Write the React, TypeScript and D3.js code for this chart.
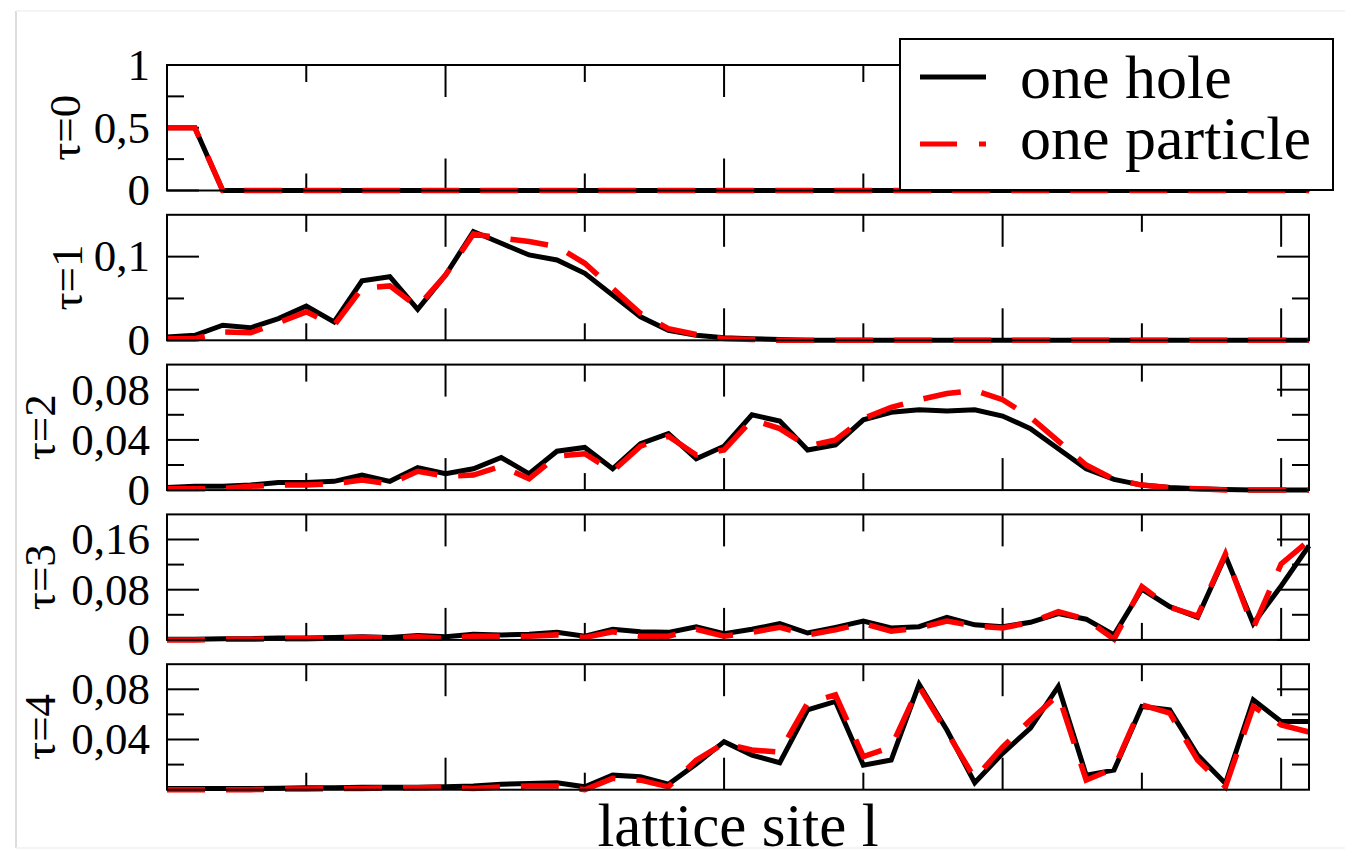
import React from 'react';
import * as d3 from 'd3';

// density at each lattice site (sites 0..41), one array per tau panel
const tau0Hole = [0.5, 0.5, 0, 0, 0, 0, 0, 0, 0, 0, 0, 0, 0, 0, 0, 0, 0, 0, 0, 0, 0, 0, 0, 0, 0, 0, 0, 0, 0, 0, 0, 0, 0, 0, 0, 0, 0, 0, 0, 0, 0, 0];
const tau0Particle = [0.5, 0.5, 0, 0, 0, 0, 0, 0, 0, 0, 0, 0, 0, 0, 0, 0, 0, 0, 0, 0, 0, 0, 0, 0, 0, 0, 0, 0, 0, 0, 0, 0, 0, 0, 0, 0, 0, 0, 0, 0, 0, 0];

const tau1Hole = [0.004, 0.006, 0.018, 0.015, 0.026, 0.041, 0.022, 0.071, 0.076, 0.037, 0.078, 0.13, 0.116, 0.102, 0.096, 0.08, 0.054, 0.028, 0.012, 0.006, 0.003, 0.002, 0.001, 0, 0, 0, 0, 0, 0, 0, 0, 0, 0, 0, 0, 0, 0, 0, 0, 0, 0, 0];
const tau1Particle = [0.002, 0.002, 0.01, 0.009, 0.021, 0.034, 0.018, 0.062, 0.065, 0.04, 0.078, 0.127, 0.122, 0.118, 0.112, 0.092, 0.062, 0.032, 0.014, 0.007, 0.002, 0.001, 0, 0, 0, 0, 0, 0, 0, 0, 0, 0, 0, 0, 0, 0, 0, 0, 0, 0, 0, 0];

const tau2Hole = [0.002, 0.003, 0.003, 0.004, 0.006, 0.006, 0.007, 0.012, 0.007, 0.018, 0.013, 0.017, 0.026, 0.013, 0.031, 0.034, 0.017, 0.037, 0.045, 0.025, 0.035, 0.06, 0.055, 0.032, 0.036, 0.056, 0.062, 0.064, 0.063, 0.064, 0.059, 0.049, 0.033, 0.017, 0.0085, 0.004, 0.002, 0.001, 0.0005, 0, 0, 0];
const tau2Particle = [0.001, 0.001, 0.0013, 0.003, 0.004, 0.004, 0.005, 0.008, 0.005, 0.015, 0.011, 0.012, 0.019, 0.009, 0.027, 0.029, 0.015, 0.035, 0.043, 0.028, 0.032, 0.056, 0.049, 0.035, 0.04, 0.057, 0.066, 0.072, 0.077, 0.0795, 0.072, 0.058, 0.039, 0.02, 0.0085, 0.004, 0.002, 0.001, 0, 0, 0, 0];

const tau3Hole = [0.001, 0.001, 0.002, 0.002, 0.003, 0.003, 0.004, 0.005, 0.004, 0.007, 0.005, 0.009, 0.008, 0.009, 0.012, 0.006, 0.017, 0.013, 0.012, 0.021, 0.01, 0.017, 0.026, 0.011, 0.02, 0.03, 0.019, 0.021, 0.036, 0.024, 0.021, 0.028, 0.042, 0.033, 0.008, 0.081, 0.053, 0.036, 0.134, 0.026, 0.086, 0.15];
const tau3Particle = [0, 0, 0.001, 0.001, 0.002, 0.002, 0.003, 0.004, 0.003, 0.005, 0.002, 0.006, 0.006, 0.006, 0.008, 0.004, 0.013, 0.006, 0.006, 0.017, 0.006, 0.012, 0.02, 0.008, 0.016, 0.026, 0.014, 0.019, 0.03, 0.022, 0.019, 0.028, 0.045, 0.033, 0.001, 0.085, 0.052, 0.038, 0.137, 0.019, 0.121, 0.158];

const tau4Hole = [0.001, 0.001, 0.001, 0.001, 0.0012, 0.0015, 0.0015, 0.002, 0.002, 0.002, 0.0023, 0.003, 0.0044, 0.005, 0.0055, 0.0023, 0.0116, 0.0103, 0.0044, 0.0204, 0.0383, 0.0276, 0.0215, 0.0636, 0.0703, 0.0196, 0.0236, 0.084, 0.0476, 0.0055, 0.029, 0.049, 0.0823, 0.0116, 0.0156, 0.0663, 0.0636, 0.0276, 0.005, 0.0716, 0.0543, 0.0543];
const tau4Particle = [0, 0, 0, 0, 0.0005, 0.0005, 0.001, 0.001, 0.0015, 0.0015, 0.002, 0.001, 0.0023, 0.003, 0.003, 0, 0.009, 0.0076, 0.0023, 0.0236, 0.037, 0.0316, 0.03, 0.069, 0.0756, 0.0263, 0.034, 0.0823, 0.046, 0.009, 0.034, 0.0556, 0.0756, 0.0076, 0.017, 0.0676, 0.061, 0.0236, 0.0023, 0.0663, 0.0516, 0.046];

const panelLabels = ['τ=0', 'τ=1', 'τ=2', 'τ=3', 'τ=4'];
const yMax = [1, 0.15, 0.1, 0.2, 0.1];
const yMajor = [[0, 0.5, 1], [0, 0.1], [0, 0.04, 0.08], [0, 0.08, 0.16], [0.04, 0.08]];
const yMinor = [[0.25, 0.75], [0.05], [0.02, 0.06], [0.04, 0.12], [0.02, 0.06]];
const xMajor = [10, 20, 30, 40];
const xMinor = [5, 15, 25, 35];
const legendLabels = ['one hole', 'one particle'];

const holeSeries = [tau0Hole, tau1Hole, tau2Hole, tau3Hole, tau4Hole];
const particleSeries = [tau0Particle, tau1Particle, tau2Particle, tau3Particle, tau4Particle];

const W = 1345;
const H = 859;
const left = 167;
const right = 1309;
const panelTop0 = 65;
const panelStep = 149.8;
const panelH = 125.5;
const font = '"Liberation Serif", "Times New Roman", serif';
const fmt = (v: number) => String(v).replace('.', ',');

function Panel({ idx }: { idx: number }) {
  const top = panelTop0 + idx * panelStep;
  const bottom = top + panelH;
  const x = d3.scaleLinear().domain([0, 41]).range([left, right]);
  const y = d3.scaleLinear().domain([0, yMax[idx]]).range([bottom, top]);
  const line = d3.line<number>().x((_, i) => x(i)).y(d => y(d));
  const labelX = [80, 82, 55, 55, 55][idx];
  const big = 32;
  const small = 17;
  return (
    <g>
      {/* x ticks, inside, top and bottom */}
      {xMajor.map(t => (
        <g key={'xM' + t} stroke="#000" strokeWidth={2}>
          <line x1={x(t)} x2={x(t)} y1={top} y2={top + big} />
          <line x1={x(t)} x2={x(t)} y1={bottom} y2={bottom - big} />
        </g>
      ))}
      {xMinor.map(t => (
        <g key={'xm' + t} stroke="#000" strokeWidth={2}>
          <line x1={x(t)} x2={x(t)} y1={top} y2={top + small} />
          <line x1={x(t)} x2={x(t)} y1={bottom} y2={bottom - small} />
        </g>
      ))}
      {/* y ticks, inside, left and right */}
      {yMajor[idx].map(t => (
        <g key={'yM' + t}>
          <line x1={left} x2={left + big} y1={y(t)} y2={y(t)} stroke="#000" strokeWidth={2} />
          <line x1={right} x2={right - big} y1={y(t)} y2={y(t)} stroke="#000" strokeWidth={2} />
          <text x={150} y={y(t)} dy="0.33em" textAnchor="end" fontSize={45} fontFamily={font}>{fmt(t)}</text>
        </g>
      ))}
      {yMinor[idx].map(t => (
        <g key={'ym' + t} stroke="#000" strokeWidth={2}>
          <line x1={left} x2={left + small} y1={y(t)} y2={y(t)} />
          <line x1={right} x2={right - small} y1={y(t)} y2={y(t)} />
        </g>
      ))}
      <path d={line(holeSeries[idx]) || ''} fill="none" stroke="#000" strokeWidth={5} strokeLinejoin="miter" />
      <path d={line(particleSeries[idx]) || ''} fill="none" stroke="#ff0000" strokeWidth={5.5} strokeDasharray="38 21" strokeLinejoin="miter" />
      <rect x={left} y={top} width={right - left} height={panelH} fill="none" stroke="#000" strokeWidth={2} />
      <text
        transform={`translate(${labelX},${(top + bottom) / 2}) rotate(-90)`}
        textAnchor="middle"
        fontSize={45}
        fontFamily={font}
      >
        {panelLabels[idx]}
      </text>
    </g>
  );
}

export default function App() {
  return (
    <svg width={W} height={H} style={{ position: 'absolute', left: 0, top: 0, background: '#fff' }}>
      <line x1={16} x2={16} y1={11} y2={848} stroke="#d0d0d0" strokeWidth={1.5} />
      <line x1={16} x2={W} y1={11} y2={11} stroke="#f0f0f0" strokeWidth={1.5} />
      <line x1={16} x2={W} y1={848} y2={848} stroke="#f0f0f0" strokeWidth={1.5} />
      {panelLabels.map((_, i) => <Panel key={i} idx={i} />)}
      {/* legend */}
      <g>
        <rect x={900} y={39} width={433} height={151} fill="#fff" stroke="#000" strokeWidth={2} />
        <line x1={920} x2={986} y1={77} y2={77} stroke="#000" strokeWidth={5} />
        <line x1={920} x2={986} y1={144} y2={144} stroke="#ff0000" strokeWidth={5} strokeDasharray="37 22" />
        <text x={1020} y={98} fontSize={62} fontFamily={font}>{legendLabels[0]}</text>
        <text x={1020} y={159} fontSize={62} fontFamily={font}>{legendLabels[1]}</text>
      </g>
      <text x={(left + right) / 2} y={846} textAnchor="middle" fontSize={61} fontFamily={font}>lattice site l</text>
    </svg>
  );
}
